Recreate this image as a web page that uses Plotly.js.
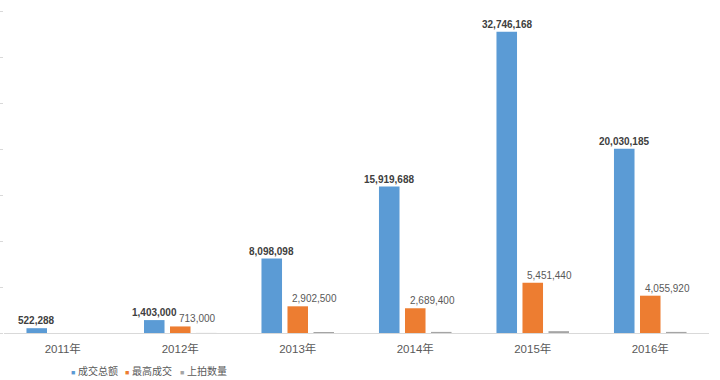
<!DOCTYPE html>
<html>
<head>
<meta charset="utf-8">
<script src="https://cdn.plot.ly/plotly-3.0.1.min.js"></script>
<style>html,body{margin:0;padding:0;background:#fff;}#chart{width:720px;height:380px;}</style>
</head>
<body>
<div id="chart"></div>
<script>
var categories = ['2011年', '2012年', '2013年', '2014年', '2015年', '2016年'];
var seriesNames = ['成交总额', '最高成交', '上拍数量'];
var totalDeals = [522288, 1403000, 8098098, 15919688, 32746168, 20030185];
var topDeals = [null, 713000, 2902500, 2689400, 5451440, 4055920];
var lotsCount = [3000, 8000, 110000, 120000, 200000, 120000];
var colors = ['#5B9BD5', '#ED7D31', '#A5A5A5'];

var FONT = 'Liberation Sans, Arial, Noto Sans CJK SC, sans-serif';

function fmt(v) { return v.toLocaleString('en-US'); }

var traces = [totalDeals, topDeals, lotsCount].map(function (vals, i) {
  return {
    type: 'bar',
    name: seriesNames[i],
    x: categories,
    y: vals,
    marker: { color: colors[i] },
    hoverinfo: 'skip',
    showlegend: false
  };
});

var annotations = [];
categories.forEach(function (c, i) {
  if (totalDeals[i] != null) {
    annotations.push({
      x: c, y: totalDeals[i], xref: 'x', yref: 'y',
      text: '<b>' + fmt(totalDeals[i]) + '</b>',
      showarrow: false, xanchor: 'center', yanchor: 'bottom',
      xshift: -26, yshift: 0,
      font: { family: FONT, size: 10, color: '#404040' }
    });
  }
  if (topDeals[i] != null) {
    annotations.push({
      x: c, y: topDeals[i], xref: 'x', yref: 'y',
      text: fmt(topDeals[i]),
      showarrow: false, xanchor: 'center', yanchor: 'bottom',
      xshift: 17, yshift: 0,
      font: { family: FONT, size: 10, color: '#595959' }
    });
  }
});

var legendX = [0.0915, 0.1695, 0.2475];
seriesNames.forEach(function (n, i) {
  annotations.push({
    x: legendX[i], y: -0.118, xref: 'paper', yref: 'paper',
    xanchor: 'left', yanchor: 'middle', showarrow: false,
    text: '<span style="color:' + colors[i] + ';font-size:7px">■</span> ' + n,
    font: { family: FONT, size: 10, color: '#595959' }
  });
});

var layout = {
  width: 720, height: 380,
  margin: { l: 4, r: 11, t: 11, b: 47, pad: 0 },
  paper_bgcolor: '#ffffff', plot_bgcolor: '#ffffff',
  barmode: 'group', bargap: 0.336, bargroupgap: 0.21,
  showlegend: false,
  font: { family: FONT },
  xaxis: {
    type: 'category',
    showline: true, linecolor: '#d9d9d9', linewidth: 1,
    showgrid: false, zeroline: false, ticks: '',
    ticklabelstandoff: 5,
    tickfont: { family: FONT, size: 11.5, color: '#595959' }
  },
  yaxis: {
    range: [0, 35000000], dtick: 5000000, tick0: 0,
    showticklabels: false, showgrid: false, zeroline: false, showline: false,
    ticks: 'outside', ticklen: 4, tickcolor: '#d9d9d9', tickwidth: 1
  },
  annotations: annotations
};

Plotly.newPlot('chart', traces, layout, { staticPlot: true, displayModeBar: false });
</script>
</body>
</html>
